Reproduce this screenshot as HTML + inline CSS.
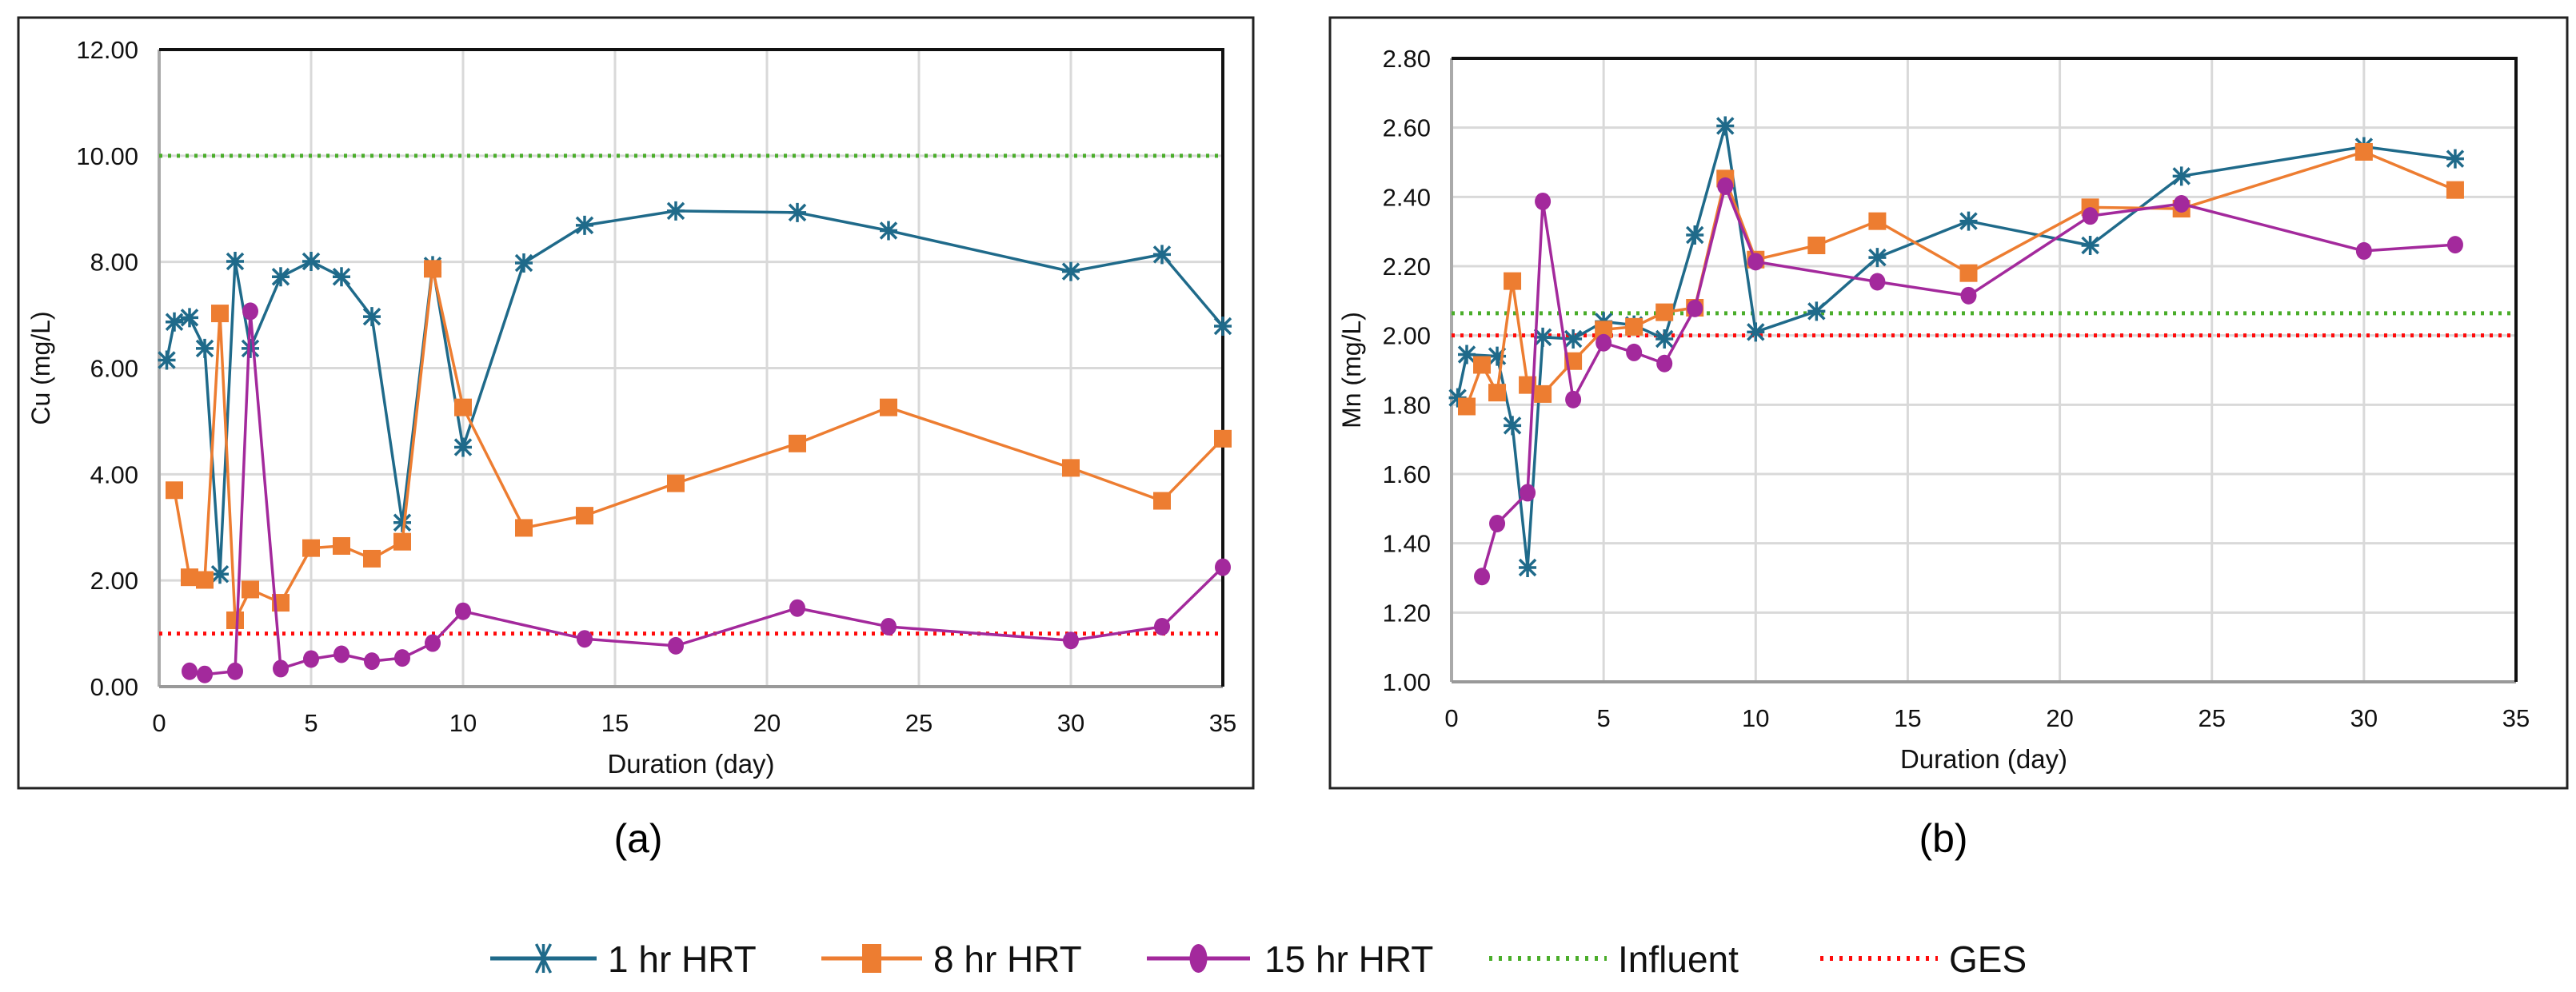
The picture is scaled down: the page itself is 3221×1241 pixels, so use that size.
<!DOCTYPE html>
<html><head><meta charset="utf-8"><style>
html,body{margin:0;padding:0;background:#fff;}
svg{display:block;font-family:"Liberation Sans",Arial,sans-serif;}
</style></head><body>
<svg id="fig" width="3221" height="1241" viewBox="0 0 3221 1241" xmlns="http://www.w3.org/2000/svg">
<rect x="0" y="0" width="3221" height="1241" fill="#fff"/>
<rect x="23" y="22" width="1544" height="964" fill="#fff" stroke="#222" stroke-width="3"/>
<rect x="1663" y="22" width="1547" height="964" fill="#fff" stroke="#222" stroke-width="3"/>
<g id="chartA"></g>
<g id="chartB"></g>
<text x="798" y="1066" font-size="50" text-anchor="middle">(a)</text>
<text x="2430" y="1066" font-size="50" text-anchor="middle">(b)</text>
<g id="legend"></g>
</svg>
<script>
// ---- Chart (a) Cu data ----
const cuX1 = [0.25,0.5,1,1.5,2,2.5,3,4,5,6,7,8,9,10,12,14,17,21,24,30,33,35];
const cuY1 = [6.15,6.87,6.95,6.37,2.12,8.01,6.37,7.72,8.01,7.72,6.97,3.09,7.93,4.51,7.98,8.69,8.96,8.93,8.59,7.82,8.14,6.79];
const cuX8 = [0.5,1,1.5,2,2.5,3,4,5,6,7,8,9,10,12,14,17,21,24,30,33,35];
const cuY8 = [3.70,2.06,2.01,7.03,1.25,1.83,1.58,2.61,2.65,2.41,2.73,7.87,5.26,2.99,3.22,3.83,4.58,5.26,4.12,3.50,4.67];
const cuX15 = [1,1.5,2.5,3,4,5,6,7,8,9,10,14,17,21,24,30,33,35];
const cuY15 = [0.29,0.23,0.29,7.07,0.34,0.52,0.61,0.48,0.54,0.82,1.42,0.90,0.77,1.48,1.13,0.87,1.13,2.25];
const cuInfluent = 10;
const cuGES = 1;
const cuYTicks = ["0.00","2.00","4.00","6.00","8.00","10.00","12.00"];
// ---- Chart (b) Mn data ----
const mnX1 = [0.2,0.5,1.5,2,2.5,3,4,5,6,7,8,9,10,12,14,17,21,24,30,33];
const mnY1 = [1.82,1.945,1.94,1.74,1.33,1.995,1.99,2.04,2.03,1.99,2.29,2.605,2.01,2.07,2.225,2.33,2.26,2.46,2.545,2.51];
const mnX8 = [0.5,1,1.5,2,2.5,3,4,5,6,7,8,9,10,12,14,17,21,24,30,33];
const mnY8 = [1.795,1.915,1.835,2.157,1.857,1.831,1.926,2.017,2.025,2.067,2.08,2.453,2.219,2.26,2.33,2.18,2.37,2.366,2.53,2.42];
const mnX15 = [1,1.5,2.5,3,4,5,6,7,8,9,10,14,17,21,24,30,33];
const mnY15 = [1.304,1.457,1.546,2.387,1.815,1.979,1.951,1.919,2.078,2.431,2.213,2.155,2.115,2.345,2.38,2.244,2.262];
const mnInfluent = 2.064;
const mnGES = 2.0;
const mnYTicks = ["1.00","1.20","1.40","1.60","1.80","2.00","2.20","2.40","2.60","2.80"];
const xTicks = ["0","5","10","15","20","25","30","35"];

const NS="http://www.w3.org/2000/svg";
const C1="#1f6a8a",C8="#ed7d31",C15="#a3299c",CG="#4aad2a",CR="#ff0a0a";
function mk(tag,attrs,parent){const e=document.createElementNS(NS,tag);for(const k in attrs)e.setAttribute(k,attrs[k]);parent.appendChild(e);return e;}

function drawChart(g,cfg){
  const sx=v=>cfg.x0+(v-0)/35*(cfg.x1-cfg.x0);
  const sy=v=>cfg.yb+(v-cfg.ymin)/(cfg.ymax-cfg.ymin)*(cfg.yt-cfg.yb);
  xTicks.forEach(t=>{const v=+t;
    const l=mk('line',{x1:sx(v),x2:sx(v),y1:cfg.yt,y2:cfg.yb,stroke:'#d9d9d9','stroke-width':3},g);
    
    
    const tx=mk('text',{x:sx(v),y:cfg.yb+56,'font-size':31,'text-anchor':'middle',fill:'#111'},g);
    tx.textContent=t;
    
    
  });
  cfg.yticks.forEach(t=>{const v=+t;
    const l=mk('line',{x1:cfg.x0,x2:cfg.x1,y1:sy(v),y2:sy(v),stroke:'#d9d9d9','stroke-width':3},g);
    
    
    const tx=mk('text',{x:cfg.x0-26,y:sy(v)+11,'font-size':31,'text-anchor':'end',fill:'#111'},g);
    tx.textContent=t;
    
    
  });
  mk('line',{x1:cfg.x0,x2:cfg.x0,y1:cfg.yt,y2:cfg.yb,stroke:'#aaa','stroke-width':4},g);
  mk('line',{x1:cfg.x0,x2:cfg.x1,y1:cfg.yb,y2:cfg.yb,stroke:'#999','stroke-width':4},g);
  mk('line',{x1:cfg.x0,x2:cfg.x1+2,y1:cfg.yt,y2:cfg.yt,stroke:'#111','stroke-width':4},g);
  mk('line',{x1:cfg.x1,x2:cfg.x1,y1:cfg.yt,y2:cfg.yb,stroke:'#111','stroke-width':4},g);
  const inf=mk('line',{x1:cfg.x0,x2:cfg.x1,y1:sy(cfg.inf),y2:sy(cfg.inf),stroke:CG,'stroke-width':5,'stroke-dasharray':'4 7'},g);
  
  
  const ges=mk('line',{x1:cfg.x0,x2:cfg.x1,y1:sy(cfg.ges),y2:sy(cfg.ges),stroke:CR,'stroke-width':5,'stroke-dasharray':'4 7'},g);
  
  
  const series=[[cfg.s1x,cfg.s1y,C1,'star','series-1hr-hrt'],[cfg.s8x,cfg.s8y,C8,'sq','series-8hr-hrt'],[cfg.s15x,cfg.s15y,C15,'circ','series-15hr-hrt']];
  series.forEach(([xs,ys,col,m,name])=>{
    const sg=mk('g',{},g);
    
    
    const pts=xs.map((x,i)=>sx(x)+','+sy(ys[i])).join(' ');
    mk('polyline',{points:pts,fill:'none',stroke:col,'stroke-width':3.5,'stroke-linejoin':'round'},sg);
    xs.forEach((x,i)=>{const px=sx(x),py=sy(ys[i]);let e;
      if(m==='sq'){e=mk('rect',{x:px-11,y:py-11,width:22,height:22,fill:col},sg);}
      else if(m==='circ'){e=mk('ellipse',{cx:px,cy:py,rx:10,ry:11,fill:col},sg);}
      else{e=mk('path',{d:`M${px-10} ${py-10}L${px+10} ${py+10}M${px+10} ${py-10}L${px-10} ${py+10}M${px} ${py-12}L${px} ${py+12}M${px-11} ${py}L${px+11} ${py}`,stroke:col,'stroke-width':3.5,fill:'none'},sg);}
      
      
    });
  });
  const xt=mk('text',{x:(cfg.x0+cfg.x1)/2,y:cfg.yb+108,'font-size':33,'text-anchor':'middle',fill:'#111'},g);
  xt.textContent='Duration (day)';
  
  
  const cy=(cfg.yt+cfg.yb)/2;
  const yt=mk('text',{x:cfg.ytx,y:cy,'font-size':32,'text-anchor':'middle',fill:'#111',transform:`rotate(-90 ${cfg.ytx} ${cy})`},g);
  yt.textContent=cfg.ytitle;
  
  
}
drawChart(document.getElementById('chartA'),{x0:199,x1:1529,yt:62,yb:859,ymin:0,ymax:12,yticks:cuYTicks,inf:cuInfluent,ges:cuGES,
  s1x:cuX1,s1y:cuY1,s8x:cuX8,s8y:cuY8,s15x:cuX15,s15y:cuY15,ytitle:'Cu (mg/L)',ytx:62});
drawChart(document.getElementById('chartB'),{x0:1815,x1:3146,yt:73,yb:853,ymin:1,ymax:2.8,yticks:mnYTicks,inf:mnInfluent,ges:mnGES,
  s1x:mnX1,s1y:mnY1,s8x:mnX8,s8y:mnY8,s15x:mnX15,s15y:mnY15,ytitle:'Mn (mg/L)',ytx:1701});

const lg=document.getElementById('legend');
const ly=1199;
const items=[[613,746,C1,'star','1 hr HRT',760],[1027,1153,C8,'sq','8 hr HRT',1167],[1434,1563,C15,'circ','15 hr HRT',1581],[1862,2009,CG,'dot','Influent',2023],[2276,2423,CR,'dot','GES',2437]];
items.forEach(([a,b,col,m,label,tx])=>{
  const g=mk('g',{},lg);
  
  
  const c=(a+b)/2;
  if(m==='dot'){mk('line',{x1:a,x2:b,y1:ly,y2:ly,stroke:col,'stroke-width':6,'stroke-dasharray':'4 8'},g);}
  else{mk('line',{x1:a,x2:b,y1:ly,y2:ly,stroke:col,'stroke-width':5},g);
    if(m==='sq')mk('rect',{x:c-12,y:ly-18,width:24,height:36,fill:col},g);
    else if(m==='circ')mk('ellipse',{cx:c,cy:ly,rx:11,ry:18,fill:col},g);
    else mk('path',{d:`M${c-9} ${ly-18}L${c+9} ${ly+18}M${c+9} ${ly-18}L${c-9} ${ly+18}M${c} ${ly-18}L${c} ${ly+18}`,stroke:col,'stroke-width':3.5},g);}
  const t=mk('text',{x:tx,y:ly+17,'font-size':46,fill:'#111'},g);
  t.textContent=label;
});
</script>
</body></html>
